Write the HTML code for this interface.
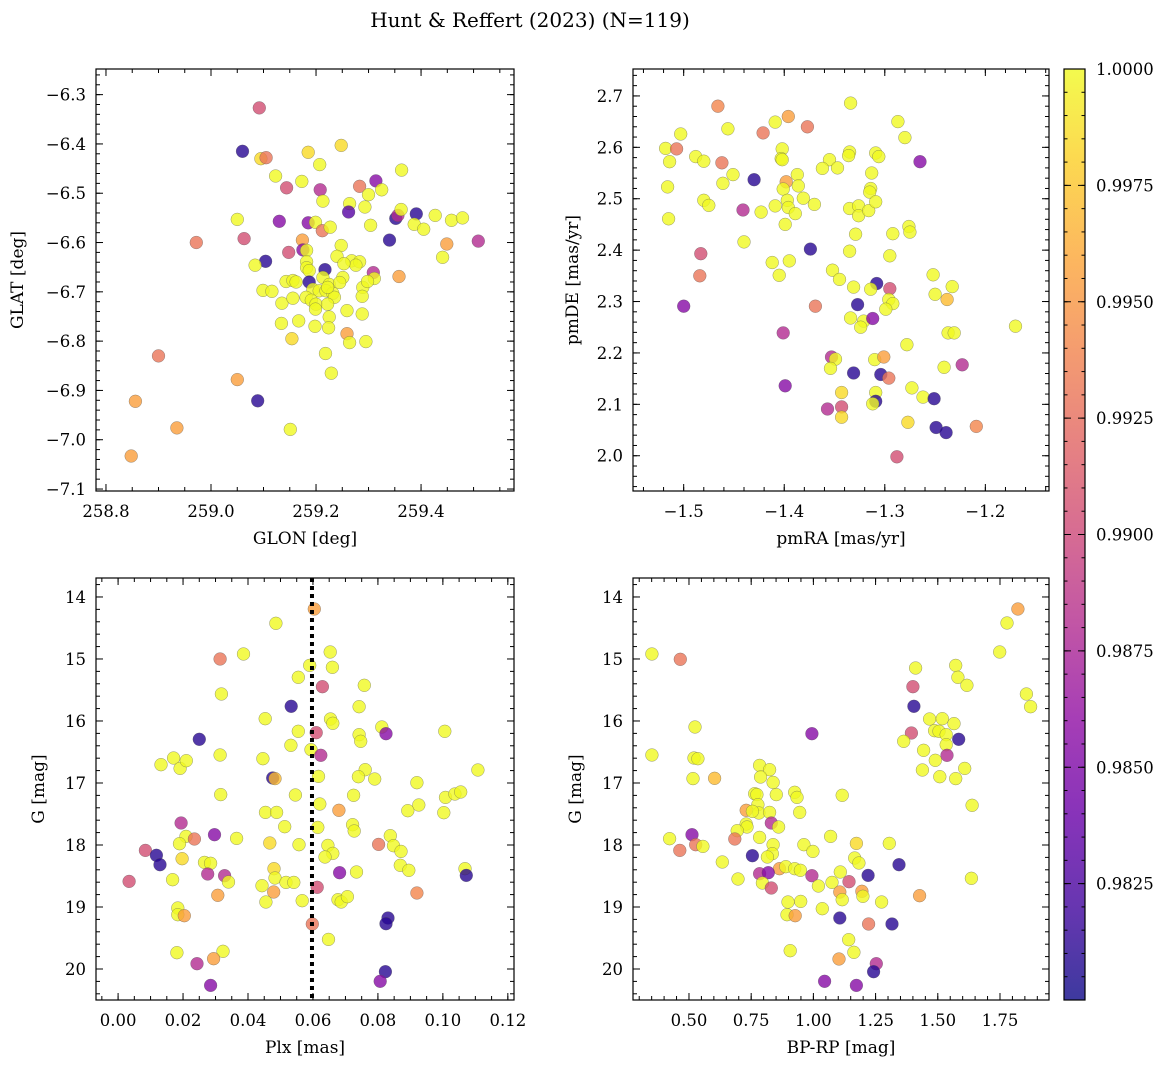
<!DOCTYPE html>
<html><head><meta charset="utf-8"><style>
html,body{margin:0;padding:0;background:#fff;}
svg{display:block;font-family:"DejaVu Serif","Liberation Serif",serif;}
</style></head><body>
<svg id="fig" width="1173" height="1068" viewBox="0 0 1173 1068" xmlns="http://www.w3.org/2000/svg">
<text x="530" y="27" font-size="20" text-anchor="middle">Hunt &amp; Reffert (2023) (N=119)</text>
<defs>
<linearGradient id="cbgrad" x1="0" y1="1" x2="0" y2="0">
<stop offset="0" stop-color="#0d0887"/><stop offset="0.1" stop-color="#41049d"/><stop offset="0.2" stop-color="#6a00a8"/><stop offset="0.3" stop-color="#8f0da4"/><stop offset="0.4" stop-color="#b12a90"/><stop offset="0.5" stop-color="#cc4778"/><stop offset="0.6" stop-color="#e16462"/><stop offset="0.7" stop-color="#f2844b"/><stop offset="0.8" stop-color="#fca636"/><stop offset="0.9" stop-color="#fcce25"/><stop offset="1" stop-color="#f0f921"/>
</linearGradient>
</defs>
</svg>
<script>
// colour classes (membership probability)
var Y=1.0, YO=0.9985, O=0.9955, S=0.993, P=0.9905, M=0.988, U=0.9855, B=0.981;

// Panel 1: GLON / GLAT
var glon=[259.092,259.060,259.095,259.105,259.185,259.248,259.207,259.123,259.173,259.363,259.144,259.208,259.283,259.314,259.325,259.3,259.213,259.264,259.262,259.293,259.05,259.13,259.185,259.199,259.212,259.227,259.304,259.352,259.356,259.362,259.391,259.387,259.405,259.427,259.458,259.479,259.34,259.509,259.449,259.441,258.972,259.063,259.174,259.148,259.175,259.182,259.248,259.104,259.084,259.24,259.182,259.182,259.187,259.268,259.283,259.276,259.253,259.217,259.309,259.311,259.358,259.187,259.143,259.156,259.162,259.213,259.225,259.251,259.245,259.194,259.206,259.219,259.232,259.235,259.222,259.289,259.298,259.288,259.099,259.116,259.135,259.156,259.181,259.191,259.2,259.199,259.222,259.259,259.288,259.225,259.134,259.167,259.198,259.224,259.259,259.264,259.295,259.154,259.218,259.229,258.9,259.05,259.089,258.856,258.935,259.151,258.848];
var glat=[-6.327,-6.415,-6.43,-6.428,-6.417,-6.403,-6.442,-6.465,-6.476,-6.453,-6.489,-6.493,-6.486,-6.475,-6.493,-6.503,-6.516,-6.521,-6.538,-6.528,-6.553,-6.557,-6.56,-6.559,-6.576,-6.569,-6.565,-6.551,-6.545,-6.533,-6.542,-6.563,-6.573,-6.545,-6.555,-6.55,-6.595,-6.597,-6.603,-6.63,-6.6,-6.592,-6.595,-6.62,-6.615,-6.616,-6.606,-6.638,-6.646,-6.628,-6.639,-6.651,-6.657,-6.637,-6.639,-6.646,-6.643,-6.655,-6.661,-6.673,-6.669,-6.68,-6.679,-6.677,-6.68,-6.671,-6.685,-6.671,-6.681,-6.695,-6.698,-6.698,-6.703,-6.711,-6.691,-6.691,-6.679,-6.709,-6.697,-6.699,-6.723,-6.713,-6.711,-6.717,-6.725,-6.735,-6.725,-6.738,-6.745,-6.751,-6.764,-6.759,-6.77,-6.773,-6.785,-6.803,-6.801,-6.795,-6.825,-6.865,-6.83,-6.878,-6.921,-6.922,-6.976,-6.979,-7.033];
var prob1=[P,B,YO,S,YO,YO,Y,Y,Y,Y,P,M,S,U,Y,Y,Y,Y,0.983,Y,Y,U,U,Y,S,Y,Y,B,M,Y,B,Y,Y,Y,Y,Y,B,M,O,Y,S,P,O,P,U,Y,Y,B,Y,Y,Y,Y,Y,Y,Y,Y,Y,B,M,Y,O,B,Y,Y,Y,Y,Y,Y,Y,Y,Y,Y,Y,Y,Y,Y,Y,Y,Y,Y,Y,Y,Y,Y,Y,Y,Y,Y,Y,Y,Y,Y,Y,Y,O,Y,Y,YO,Y,Y,S,O,B,O,O,Y,O];

// Panel 2: pmRA / pmDE
var pmra=[-1.466,-1.334,-1.396,-1.409,-1.377,-1.503,-1.456,-1.421,-1.287,-1.28,-1.518,-1.507,-1.514,-1.488,-1.48,-1.462,-1.402,-1.403,-1.402,-1.355,-1.362,-1.347,-1.335,-1.336,-1.309,-1.306,-1.265,-1.516,-1.451,-1.461,-1.43,-1.398,-1.401,-1.387,-1.386,-1.313,-1.314,-1.315,-1.515,-1.48,-1.475,-1.441,-1.423,-1.409,-1.397,-1.396,-1.389,-1.399,-1.381,-1.37,-1.335,-1.326,-1.326,-1.316,-1.309,-1.44,-1.374,-1.335,-1.329,-1.292,-1.276,-1.275,-1.295,-1.483,-1.484,-1.412,-1.405,-1.395,-1.352,-1.345,-1.331,-1.308,-1.314,-1.295,-1.252,-1.233,-1.25,-1.238,-1.296,-1.292,-1.299,-1.327,-1.5,-1.369,-1.334,-1.321,-1.324,-1.312,-1.401,-1.237,-1.231,-1.17,-1.278,-1.353,-1.349,-1.31,-1.301,-1.354,-1.331,-1.304,-1.296,-1.241,-1.223,-1.399,-1.343,-1.309,-1.309,-1.312,-1.273,-1.262,-1.251,-1.357,-1.343,-1.343,-1.277,-1.249,-1.239,-1.209,-1.288];
var pmde=[2.68,2.686,2.66,2.649,2.64,2.626,2.636,2.628,2.65,2.619,2.598,2.597,2.572,2.582,2.573,2.57,2.597,2.578,2.576,2.576,2.559,2.56,2.591,2.584,2.589,2.582,2.572,2.523,2.547,2.53,2.537,2.533,2.519,2.547,2.525,2.55,2.52,2.513,2.461,2.497,2.487,2.478,2.474,2.486,2.497,2.483,2.471,2.45,2.501,2.489,2.481,2.486,2.467,2.477,2.494,2.416,2.402,2.398,2.431,2.432,2.446,2.435,2.389,2.393,2.35,2.376,2.351,2.379,2.361,2.343,2.328,2.335,2.324,2.325,2.352,2.329,2.314,2.304,2.304,2.296,2.285,2.294,2.291,2.291,2.268,2.262,2.25,2.267,2.239,2.239,2.239,2.252,2.216,2.192,2.188,2.187,2.192,2.17,2.161,2.158,2.151,2.172,2.177,2.136,2.123,2.123,2.106,2.101,2.132,2.114,2.111,2.091,2.095,2.075,2.065,2.055,2.045,2.057,1.998];
var prob2=[0.994,Y,O,Y,S,Y,Y,S,Y,Y,Y,S,Y,Y,Y,S,Y,Y,Y,Y,Y,Y,Y,Y,Y,Y,U,Y,Y,Y,B,O,Y,Y,Y,Y,Y,Y,Y,Y,Y,M,Y,Y,Y,Y,Y,Y,Y,Y,Y,Y,Y,Y,Y,Y,B,Y,Y,Y,Y,Y,Y,P,S,Y,Y,Y,Y,Y,Y,B,Y,P,Y,Y,Y,0.997,Y,Y,Y,B,U,S,Y,Y,Y,U,M,Y,Y,Y,Y,M,Y,Y,O,Y,B,B,S,Y,M,U,YO,Y,B,Y,Y,Y,B,M,P,YO,YO,B,B,0.994,P];

// Panel 3: Plx / G
var plx=[0.0604,0.0486,0.0314,0.0386,0.0653,0.066,0.059,0.0555,0.0629,0.0758,0.0318,0.0533,0.0742,0.0453,0.0654,0.0661,0.0555,0.061,0.0812,0.0825,0.0742,0.0747,0.1006,0.025,0.0532,0.0594,0.0624,0.0314,0.0446,0.0132,0.0171,0.0191,0.021,0.0476,0.0483,0.0617,0.0761,0.074,0.079,0.1108,0.092,0.0316,0.0546,0.0725,0.0621,0.1008,0.1037,0.1055,0.0926,0.0892,0.1003,0.0454,0.0488,0.068,0.0513,0.0615,0.0722,0.0727,0.0194,0.0297,0.0209,0.0235,0.0189,0.0365,0.0467,0.0557,0.0838,0.0848,0.0871,0.0802,0.0646,0.0661,0.0637,0.0084,0.0118,0.0129,0.0197,0.0266,0.0285,0.0869,0.0895,0.048,0.0483,0.0682,0.0734,0.1068,0.1072,0.0034,0.0168,0.0276,0.0328,0.034,0.0443,0.0517,0.0541,0.0613,0.0307,0.0479,0.0455,0.0567,0.0677,0.0687,0.0706,0.092,0.0184,0.0184,0.0204,0.0831,0.0825,0.0598,0.0648,0.0181,0.0323,0.0294,0.0243,0.0823,0.0807,0.0285];
var g3=[14.194,14.425,15.0,14.92,14.888,15.135,15.103,15.296,15.447,15.425,15.565,15.764,15.769,15.963,15.968,16.038,16.167,16.189,16.097,16.205,16.221,16.328,16.167,16.296,16.393,16.463,16.554,16.549,16.608,16.705,16.597,16.764,16.64,16.92,16.93,16.893,16.785,16.898,16.936,16.79,16.995,17.188,17.194,17.199,17.339,17.232,17.178,17.146,17.355,17.447,17.479,17.474,17.474,17.441,17.705,17.716,17.672,17.775,17.646,17.834,17.861,17.904,17.979,17.893,17.968,17.995,17.85,18.011,18.103,17.99,18.006,18.135,18.194,18.087,18.167,18.318,18.221,18.28,18.296,18.328,18.409,18.382,18.533,18.447,18.436,18.382,18.49,18.587,18.56,18.468,18.495,18.597,18.656,18.603,18.603,18.683,18.812,18.758,18.92,18.898,18.882,18.92,18.834,18.775,19.016,19.124,19.14,19.178,19.269,19.275,19.522,19.737,19.715,19.834,19.914,20.043,20.199,20.264];
var prob3=[O,Y,S,Y,Y,Y,Y,Y,P,Y,Y,B,Y,Y,Y,Y,Y,P,Y,U,Y,Y,Y,B,Y,Y,M,Y,Y,Y,Y,Y,Y,B,0.997,Y,Y,Y,Y,Y,Y,Y,Y,Y,Y,Y,Y,Y,Y,Y,Y,Y,Y,O,Y,Y,Y,Y,M,U,Y,S,Y,Y,YO,Y,Y,Y,Y,S,Y,Y,Y,P,B,B,YO,Y,Y,Y,Y,YO,Y,U,Y,Y,B,P,Y,M,M,Y,Y,Y,Y,P,O,O,Y,Y,Y,Y,Y,0.994,Y,Y,O,B,B,S,Y,Y,Y,O,M,B,U,U];

// Panel 4: BP-RP / G
var bprp=[0.351,0.465,1.822,1.778,1.749,1.411,1.572,1.581,1.617,1.856,1.873,1.4,1.404,0.524,0.994,1.467,1.518,1.565,1.487,1.505,1.534,1.534,1.394,1.584,1.363,1.443,1.537,1.49,0.351,0.52,0.536,1.438,1.608,1.508,1.572,0.516,0.603,0.784,0.824,0.788,0.838,0.851,0.764,0.773,0.777,0.781,0.824,0.73,0.755,0.925,0.934,0.945,1.116,1.638,0.73,0.733,0.694,0.831,0.86,0.512,0.422,0.527,0.556,0.463,0.684,0.784,0.838,0.835,0.815,0.962,0.998,1.069,1.173,1.305,1.166,1.183,0.755,0.634,1.344,0.864,0.889,0.925,0.948,0.784,0.819,0.697,0.795,0.831,0.994,1.02,1.075,1.108,1.143,1.22,1.106,1.116,1.195,1.199,1.274,1.635,1.427,0.898,0.949,1.036,0.894,0.927,1.106,1.222,1.316,1.142,0.907,1.163,1.103,1.253,1.242,1.045,1.173];
var g4=[14.92,15.006,14.194,14.42,14.888,15.146,15.103,15.296,15.425,15.565,15.769,15.447,15.764,16.097,16.205,15.968,15.963,16.043,16.156,16.167,16.221,16.382,16.194,16.296,16.328,16.473,16.554,16.634,16.549,16.597,16.608,16.79,16.764,16.898,16.93,16.93,16.925,16.716,16.785,16.904,16.99,17.188,17.172,17.188,17.35,17.484,17.474,17.441,17.457,17.151,17.232,17.474,17.199,17.36,17.662,17.71,17.769,17.646,17.71,17.834,17.898,17.995,18.022,18.087,17.904,17.877,17.995,18.14,18.194,17.995,18.103,17.861,17.974,17.974,18.21,18.291,18.173,18.275,18.318,18.382,18.35,18.382,18.409,18.463,18.447,18.549,18.613,18.694,18.495,18.661,18.603,18.436,18.592,18.49,18.758,18.882,18.747,18.828,18.92,18.538,18.818,18.92,18.909,19.027,19.124,19.14,19.178,19.275,19.275,19.527,19.705,19.731,19.839,19.914,20.043,20.199,20.264];
var prob4=[Y,S,O,Y,Y,Y,Y,Y,Y,Y,Y,P,B,Y,U,Y,Y,Y,Y,Y,Y,Y,P,B,Y,Y,M,Y,Y,Y,Y,Y,Y,Y,Y,Y,0.997,Y,Y,Y,Y,Y,Y,Y,Y,Y,Y,O,Y,Y,Y,Y,Y,Y,Y,Y,Y,M,Y,U,Y,S,Y,S,S,Y,Y,Y,Y,Y,Y,Y,YO,Y,Y,Y,B,Y,B,O,Y,Y,Y,M,U,Y,Y,P,M,Y,Y,Y,P,B,O,Y,O,Y,Y,Y,O,Y,Y,Y,Y,O,B,S,B,Y,Y,Y,O,M,B,U,U];

// tick labels
var p1XTicks=[258.8,259.0,259.2,259.4];
var p1YTicks=[-6.3,-6.4,-6.5,-6.6,-6.7,-6.8,-6.9,-7.0,-7.1];
var p2XTicks=[-1.5,-1.4,-1.3,-1.2];
var p2YTicks=[2.0,2.1,2.2,2.3,2.4,2.5,2.6,2.7];
var p3XTicks=[0.00,0.02,0.04,0.06,0.08,0.10,0.12];
var gTicks=[14,15,16,17,18,19,20];
var p4XTicks=[0.50,0.75,1.00,1.25,1.50,1.75];
var cbTicks=[0.9825,0.9850,0.9875,0.9900,0.9925,0.9950,0.9975,1.0000];
var plxLine=[0.0597];

var NS="http://www.w3.org/2000/svg";
var svg=document.getElementById('fig');
function mk(tag,attrs,parent){var e=document.createElementNS(NS,tag);for(var k in attrs)e.setAttribute(k,attrs[k]);(parent||svg).appendChild(e);return e;}
var stops=[[13,8,135],[65,4,157],[106,0,168],[143,13,164],[177,42,144],[204,71,120],[225,100,98],[242,132,75],[252,166,54],[252,206,37],[240,249,33]];
var CMIN=0.980,CMAX=1.000;
function plasma(v){var t=(v-CMIN)/(CMAX-CMIN);t=Math.max(0,Math.min(1,t));var f=t*10,i=Math.min(9,Math.floor(f)),r=f-i;var a=stops[i],b=stops[i+1];return 'rgb('+Math.round(a[0]+(b[0]-a[0])*r)+','+Math.round(a[1]+(b[1]-a[1])*r)+','+Math.round(a[2]+(b[2]-a[2])*r)+')';}
function fmt(v,d){var s=Math.abs(v).toFixed(d);return (v<0?'\u2212':'')+s;}

function panel(o){
  var g=mk('g',{});
  
  
  var sx=function(v){return o.L+(v-o.x0)/(o.x1-o.x0)*(o.R-o.L);};
  var sy=function(v){return o.T+(o.y0-v)/(o.y0-o.y1)*(o.Bt-o.T);};
  var pg=mk('g',{},g);
  
  
  for(var i=0;i<o.xs.length;i++){
    var c=mk('circle',{cx:sx(o.xs[i]).toFixed(1),cy:sy(o.ys[i]).toFixed(1),r:6.4,fill:plasma(o.cs[i]),'fill-opacity':0.8,stroke:'#555','stroke-opacity':0.6,'stroke-width':0.5},pg);
    
    
  }
  if(o.vline){for(var j=0;j<o.vline.length;j++){var vl=mk('line',{x1:sx(o.vline[j]),x2:sx(o.vline[j]),y1:o.T,y2:o.Bt,stroke:'#000','stroke-width':4,'stroke-dasharray':'4 4'},g);
    
    }}
  var fr=mk('rect',{x:o.L,y:o.T,width:o.R-o.L,height:o.Bt-o.T,fill:'none',stroke:'#000','stroke-width':1.2},g);
  
  
  var tg=mk('g',{stroke:'#000','stroke-width':1},g);
  function xt(v,len){var x=sx(v);if(x<o.L-0.5||x>o.R+0.5)return;mk('line',{x1:x,x2:x,y1:o.Bt,y2:o.Bt-len},tg);mk('line',{x1:x,x2:x,y1:o.T,y2:o.T+len},tg);}
  function yt(v,len){var y=sy(v);if(y<o.T-0.5||y>o.Bt+0.5)return;mk('line',{x1:o.L,x2:o.L+len,y1:y,y2:y},tg);mk('line',{x1:o.R,x2:o.R-len,y1:y,y2:y},tg);}
  var s;
  for(s=Math.ceil(o.x0/o.xm);s*o.xm<=o.x1;s++)xt(s*o.xm,4);
  for(s=Math.ceil(Math.min(o.y0,o.y1)/o.ym);s*o.ym<=Math.max(o.y0,o.y1);s++)yt(s*o.ym,4);
  o.xt.forEach(function(v){xt(v,7);var t=mk('text',{x:sx(v),y:o.Bt+26,'font-size':16.5,'text-anchor':'middle'},g);t.textContent=fmt(v,o.xd);
    
    });
  o.yt.forEach(function(v){yt(v,7);var t=mk('text',{x:o.L-10,y:sy(v)+6,'font-size':16.5,'text-anchor':'end'},g);t.textContent=fmt(v,o.yd);
    
    });
  var xl=mk('text',{x:(o.L+o.R)/2,y:o.Bt+53,'font-size':17,'text-anchor':'middle'},g);xl.textContent=o.xlab;
  
  
  var yx=o.ylx,yy=(o.T+o.Bt)/2;
  var yl=mk('text',{x:yx,y:yy,'font-size':17,'text-anchor':'middle',transform:'rotate(-90 '+yx+' '+yy+')'},g);yl.textContent=o.ylab;
  
  
}

panel({name:'glon-glat-panel',L:96,R:514,T:69,Bt:491,x0:258.781,x1:259.577,y0:-6.248,y1:-7.104,xs:glon,ys:glat,cs:prob1,xt:p1XTicks,yt:p1YTicks,xm:0.05,ym:0.02,xd:1,yd:1,xlab:'GLON [deg]',ylab:'GLAT [deg]',ylx:23});
panel({name:'pm-panel',L:633,R:1049,T:69,Bt:491,x0:-1.5504,x1:-1.1367,y0:2.7524,y1:1.9314,xs:pmra,ys:pmde,cs:prob2,xt:p2XTicks,yt:p2YTicks,xm:0.02,ym:0.02,xd:1,yd:1,xlab:'pmRA [mas/yr]',ylab:'pmDE [mas/yr]',ylx:578});
panel({name:'plx-g-panel',L:96,R:514,T:578,Bt:1000,x0:-0.0068,x1:0.1219,y0:13.694,y1:20.5,xs:plx,ys:g3,cs:prob3,xt:p3XTicks,yt:gTicks,xm:0.005,ym:0.2,xd:2,yd:0,xlab:'Plx [mas]',ylab:'G [mag]',ylx:44,vline:plxLine});
panel({name:'cmd-panel',L:633,R:1049,T:578,Bt:1000,x0:0.275,x1:1.947,y0:13.694,y1:20.5,xs:bprp,ys:g4,cs:prob4,xt:p4XTicks,yt:gTicks,xm:0.05,ym:0.2,xd:2,yd:0,xlab:'BP-RP [mag]',ylab:'G [mag]',ylx:581});

(function(){
  var L=1064,R=1085,T=69,Bt=1000;
  var g=mk('g',{});
  
  
  mk('rect',{x:L,y:T,width:R-L,height:Bt-T,fill:'url(#cbgrad)','fill-opacity':0.8},g);
  mk('rect',{x:L,y:T,width:R-L,height:Bt-T,fill:'none',stroke:'#000','stroke-width':1.2},g);
  var cy=function(v){return Bt-(v-CMIN)/(CMAX-CMIN)*(Bt-T);};
  var tg=mk('g',{stroke:'#000','stroke-width':1},g);
  for(var s=Math.ceil(CMIN/0.0005);s*0.0005<=CMAX+1e-9;s++){var y=cy(s*0.0005);mk('line',{x1:R,x2:R-3.5,y1:y,y2:y},tg);mk('line',{x1:L,x2:L+3.5,y1:y,y2:y},tg);}
  cbTicks.forEach(function(v){var y=cy(v);mk('line',{x1:R,x2:R-7,y1:y,y2:y},tg);mk('line',{x1:L,x2:L+7,y1:y,y2:y},tg);
    var t=mk('text',{x:R+11,y:y+6,'font-size':16.5},g);t.textContent=v.toFixed(4);
    
    });
})();
</script>
</body></html>
